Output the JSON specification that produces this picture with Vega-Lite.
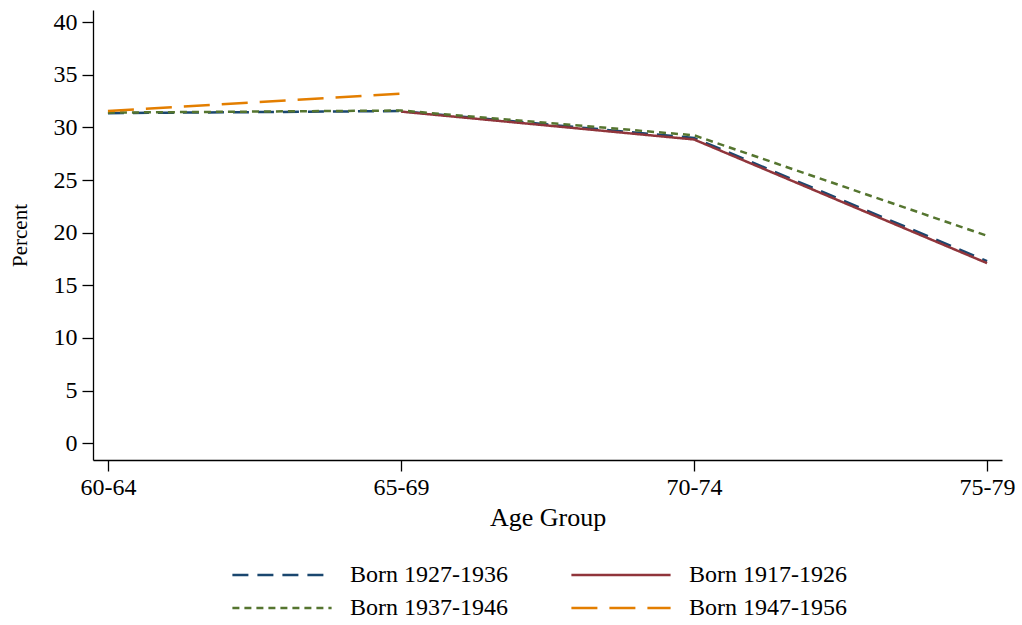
{
  "$schema": "https://vega.github.io/schema/vega-lite/v6.json",
  "autosize": "none",
  "width": 909,
  "height": 450,
  "padding": {"left": 93, "top": 10, "right": 20, "bottom": 165},
  "background": "white",
  "config": {
    "view": {"stroke": null},
    "font": "Liberation Serif",
    "axis": {"grid": false, "domainColor": "black", "tickColor": "black", "labelColor": "black", "titleColor": "black", "labelFont": "Liberation Serif", "titleFont": "Liberation Serif", "labelFontSize": 24, "titleFontSize": 24, "titleFontWeight": "normal", "domainWidth": 1.3, "tickWidth": 1.3}
  },
  "data": {
    "values": [
      {"age": "60-64", "series": "Born 1927-1936", "pct": 31.35},
      {"age": "65-69", "series": "Born 1927-1936", "pct": 31.55},
      {"age": "70-74", "series": "Born 1927-1936", "pct": 29.0},
      {"age": "75-79", "series": "Born 1927-1936", "pct": 17.3},
      {"age": "65-69", "series": "Born 1917-1926", "pct": 31.5},
      {"age": "70-74", "series": "Born 1917-1926", "pct": 28.85},
      {"age": "75-79", "series": "Born 1917-1926", "pct": 17.1},
      {"age": "60-64", "series": "Born 1937-1946", "pct": 31.4},
      {"age": "65-69", "series": "Born 1937-1946", "pct": 31.6},
      {"age": "70-74", "series": "Born 1937-1946", "pct": 29.25},
      {"age": "75-79", "series": "Born 1937-1946", "pct": 19.7},
      {"age": "60-64", "series": "Born 1947-1956", "pct": 31.55},
      {"age": "65-69", "series": "Born 1947-1956", "pct": 33.2}
    ]
  },
  "mark": {"type": "line", "strokeWidth": 2.5},
  "encoding": {
    "x": {
      "field": "age", "type": "ordinal",
      "scale": {"type": "point", "padding": 0.051},
      "axis": {"title": "Age Group", "titleFontSize": 26, "labelAngle": 0, "tickSize": 11, "labelPadding": 4, "titlePadding": 5}
    },
    "y": {
      "field": "pct", "type": "quantitative",
      "scale": {"domain": [-1.6, 41.15], "nice": false, "zero": false},
      "axis": {"title": "Percent", "titleFontSize": 21, "values": [0, 5, 10, 15, 20, 25, 30, 35, 40], "tickSize": 11, "labelPadding": 5, "titlePadding": 23}
    },
    "color": {
      "field": "series", "type": "nominal",
      "scale": {"domain": ["Born 1927-1936", "Born 1917-1926", "Born 1937-1946", "Born 1947-1956"], "range": ["#1a476f", "#90353b", "#55752f", "#e37e00"]},
      "legend": {"title": null, "orient": "none", "legendX": 172, "legendY": 548, "direction": "horizontal", "columns": 2, "symbolType": "M-3.2,0H3.2", "symbolSize": 961, "symbolStrokeWidth": 2.5, "labelFontSize": 24, "labelFont": "Liberation Serif", "labelColor": "black", "labelOffset": 51, "columnPadding": 58, "rowPadding": 4}
    },
    "strokeDash": {
      "field": "series", "type": "nominal",
      "scale": {"domain": ["Born 1927-1936", "Born 1917-1926", "Born 1937-1946", "Born 1947-1956"], "range": [[16, 9], [1, 0], [7, 5], [26, 12]]},
      "legend": {"title": null, "orient": "none", "legendX": 172, "legendY": 548, "direction": "horizontal", "columns": 2, "symbolType": "M-3.2,0H3.2", "symbolSize": 961, "symbolStrokeWidth": 2.5, "labelFontSize": 24, "labelFont": "Liberation Serif", "labelColor": "black", "labelOffset": 51, "columnPadding": 58, "rowPadding": 4}
    }
  }
}
